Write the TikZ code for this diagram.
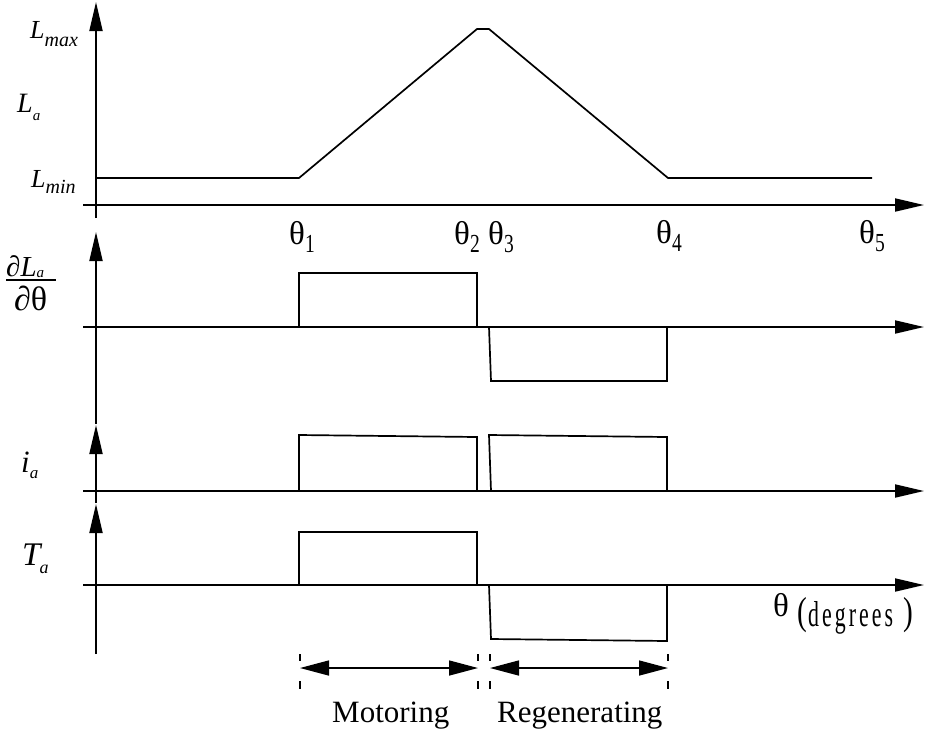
\documentclass[tikz,border=0pt]{standalone}
\usepackage{fontspec}
\setmainfont{Liberation Serif}
\newfontfamily\degfont[LetterSpace=14]{Liberation Serif}
\usetikzlibrary{arrows.meta}
\newcommand{\fsz}[1]{\fontsize{#1}{#1}\selectfont}
\newcommand{\thlab}[1]{\fsz{33}θ\raisebox{-8pt}{\scalebox{0.75}[1]{\fsz{26}#1}}}
\begin{document}
\begin{tikzpicture}[x=1pt,y=-1pt,
  axarrow/.style={line width=1.9pt,-{Triangle[length=29pt,width=13pt]}},
  sig/.style={line width=1.7pt,line join=miter},
  dimtick/.style={line width=1.5pt,dash pattern=on 7pt off 20pt on 8pt off 10pt},
  dimarrow/.style={line width=1.5pt,{Triangle[length=29pt,width=15pt]}-{Triangle[length=29pt,width=15pt]}},
  lbl/.style={inner sep=0pt,anchor=base west},
]
\useasboundingbox (0,0) rectangle (931,729);

% axis coordinates
\coordinate (v1b) at (96,218); \coordinate (v1t) at (96,2);
\coordinate (h1l) at (83,205); \coordinate (h1r) at (924,205);
\coordinate (v2b) at (96,424); \coordinate (v2t) at (96,232);
\coordinate (h2l) at (83,327); \coordinate (h2r) at (924,327);
\coordinate (v3b) at (96,503); \coordinate (v3t) at (96,425);
\coordinate (h3l) at (83,491); \coordinate (h3r) at (924,491);
\coordinate (v4b) at (96,654); \coordinate (v4t) at (96,504);
\coordinate (h4l) at (83,585); \coordinate (h4r) at (924,585);

\draw[axarrow] (v1b) -- (v1t);
\draw[axarrow] (h1l) -- (h1r);
\draw[axarrow] (v2b) -- (v2t);
\draw[axarrow] (h2l) -- (h2r);
\draw[axarrow] (v3b) -- (v3t);
\draw[axarrow] (h3l) -- (h3r);
\draw[axarrow] (v4b) -- (v4t);
\draw[axarrow] (h4l) -- (h4r);

% inductance profile
\draw[sig] (96,178) -- (299,178) -- (477,29) -- (489,29) -- (668,178) -- (872,178);

% dL/dtheta
\draw[sig] (299,327) -- (299,273) -- (477,273) -- (477,327);
\draw[sig] (489,327) -- (491,381) -- (667,381) -- (667,327);

% current
\draw[sig] (299,491) -- (299,435) -- (477,437) -- (477,491);
\draw[sig] (491,491) -- (489,435) -- (667,437) -- (667,491);

% torque
\draw[sig] (299,585) -- (299,532) -- (477,532) -- (477,585);
\draw[sig] (489,585) -- (491,639) -- (667,641) -- (667,585);

% dimension ticks and arrows
\coordinate (m1t) at (300,654); \coordinate (m1b) at (300,690);
\coordinate (m2t) at (478,654); \coordinate (m2b) at (478,690);
\coordinate (r1t) at (490,654); \coordinate (r1b) at (490,690);
\coordinate (r2t) at (668,654); \coordinate (r2b) at (668,690);
\draw[dimtick] (m1t) -- (m1b);
\draw[dimtick] (m2t) -- (m2b);
\draw[dimtick] (r1t) -- (r1b);
\draw[dimtick] (r2t) -- (r2b);
\coordinate (m1) at (300,668); \coordinate (m2) at (478,668);
\coordinate (r1) at (490,668); \coordinate (r2) at (668,668);
\draw[dimarrow] (m1) -- (m2);
\draw[dimarrow] (r1) -- (r2);

% labels
\node[lbl] (Lmax) at (30,38) {\fsz{26}\textit{L}\raisebox{-8pt}{\fsz{20}\textit{max}}};
\node[lbl] (La) at (17,112) {\fsz{28}\textit{L}\raisebox{-8pt}{\fsz{15}\textit{a}}};
\node[lbl] (Lmin) at (31,187) {\fsz{26}\textit{L}\raisebox{-6pt}{\fsz{20}\textit{min}}};

\node[lbl] (t1) at (289,244) {\thlab{1}};
\node[lbl] (t2) at (454,244) {\thlab{2}};
\node[lbl] (t3) at (488,244) {\thlab{3}};
\node[lbl] (t4) at (656,243) {\thlab{4}};
\node[lbl] (t5) at (859,243) {\thlab{5}};

\node[lbl] (dLn) at (6,276) {\fsz{29}∂\textit{L}\raisebox{-1pt}{\fsz{15}\textit{a}}};
\draw[line width=1.4pt] (6,280) -- (56,280);
\node[lbl] (dLd) at (14,310) {\fsz{34}∂θ};

\node[lbl] (ia) at (21,472) {\fsz{31}\textit{i}\raisebox{-6pt}{\fsz{17}\textit{a}}};
\node[lbl] (Ta) at (22,565) {\fsz{33}\textit{T}\kern-3pt\raisebox{-8pt}{\fsz{18}\textit{a}}};

\node[lbl] (th) at (773,616) {\fsz{33}θ};
\node[lbl] (lp) at (797,624) {\scalebox{0.75}[1]{\fsz{39}(}};
\node[lbl] (deg) at (808,626) {\resizebox{85pt}{25pt}{\degfont degrees}};
\node[lbl] (rp) at (903,624) {\scalebox{0.75}[1]{\fsz{39})}};

\node[lbl] (mot) at (332,722) {\fsz{31}Motoring};
\node[lbl] (reg) at (497,722) {\fsz{31}Regenerating};
\end{tikzpicture}
\end{document}
